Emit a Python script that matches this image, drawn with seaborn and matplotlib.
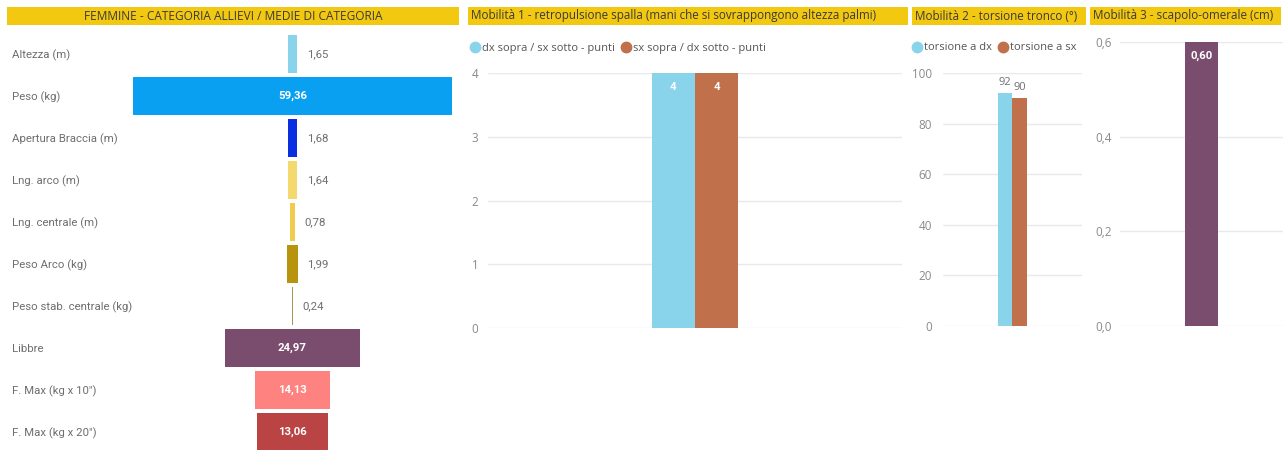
import matplotlib
matplotlib.use("Agg")
import matplotlib.pyplot as plt
from matplotlib.patches import Rectangle
from matplotlib.lines import Line2D
import numpy as np
import pandas as pd
import seaborn as sns

# --- dati ---------------------------------------------------------------
categorie = [
    "Altezza (m)", "Peso (kg)", "Apertura Braccia (m)", "Lng. arco (m)",
    "Lng. centrale (m)", "Peso Arco (kg)", "Peso stab. centrale (kg)",
    "Libbre", "F. Max (kg x 10\")", "F. Max (kg x 20\")",
]
medie = [1.65, 59.36, 1.68, 1.64, 0.78, 1.99, 0.24, 24.97, 14.13, 13.06]
colori_medie = [
    "#8AD4EB", "#0AA0F2", "#0A2FE0", "#F3D96E", "#F0CB4E",
    "#B8940E", "#A89455", "#7A4D6E", "#FD8280", "#BA4443",
]

mob1_serie = ["dx sopra / sx sotto - punti", "sx sopra / dx sotto - punti"]
mob1_valori = [4, 4]
mob1_ticks = [0, 1, 2, 3, 4]

mob2_serie = ["torsione a dx", "torsione a sx"]
mob2_valori = [92, 90]
mob2_ticks = [0, 20, 40, 60, 80, 100]

mob3_serie = ["scapolo-omerale"]
mob3_valori = [0.60]
mob3_ticks = [0.0, 0.2, 0.4, 0.6]

titoli = [
    "FEMMINE - CATEGORIA ALLIEVI / MEDIE DI CATEGORIA",
    "Mobilità 1 - retropulsione spalla (mani che si sovrappongono altezza palmi)",
    "Mobilità 2 - torsione tronco (°)",
    "Mobilità 3 - scapolo-omerale (cm)",
]

# --- stile ----------------------------------------------------------------
sns.set_theme(style="white")
plt.rcParams["font.family"] = ["Open Sans", "DejaVu Sans"]

AZZURRO = "#8AD4EB"
MATTONE = "#C0704A"
GIALLO = "#F2C811"
GRIGIO_TESTO = "#6E6E6E"
GRIGIO_GRIGLIA = "#E9E9E9"

W, H = 1288, 450
fig = plt.figure(figsize=(W / 100, H / 100), dpi=100)
fig.patch.set_facecolor("white")


def assi_px(left, top, right, bottom):
    return fig.add_axes([left / W, 1 - bottom / H, (right - left) / W, (bottom - top) / H])


def barra_titolo(left, right, testo, centrato=False):
    fig.add_artist(Rectangle((left / W, 1 - 25 / H), (right - left) / W, 18 / H,
                             transform=fig.transFigure, color=GIALLO, lw=0, zorder=0))
    if centrato:
        fig.text((left + right) / 2 / W, 1 - 16 / H, testo, ha="center", va="center",
                 fontsize=8.6, color="#3A3A3A")
    else:
        fig.text((left + 3) / W, 1 - 16 / H, testo, ha="left", va="center",
                 fontsize=8.35, color="#3A3A3A")


def virgola(v, dec):
    return f"{v:.{dec}f}".replace(".", ",")


def stile_colonne(ax, ticks, dec, pad):
    ax.set_yticks(ticks)
    ax.set_yticklabels([virgola(t, dec) for t in ticks])
    ax.set_xticks([])
    ax.set_xlabel("")
    ax.set_ylabel("")
    ax.grid(axis="y", color=GRIGIO_GRIGLIA, lw=1)
    ax.set_axisbelow(True)
    for s in ax.spines.values():
        s.set_visible(False)
    ax.tick_params(axis="y", length=0, pad=pad, labelsize=8.4, labelcolor="#8A8A8A")
    ax.set_facecolor("none")


def legenda(serie, colori, x):
    fig.legend(handles=[Line2D([], [], marker="o", ls="", color=c, markersize=7.5) for c in colori],
               labels=serie, loc="center left", bbox_to_anchor=(x / W, 1 - 48 / H),
               ncol=2, frameon=False, fontsize=8.0, handlelength=0.7, handletextpad=0.3,
               columnspacing=0.6, labelcolor="#555555", borderpad=0, borderaxespad=0)


# --- imbuto delle medie ---------------------------------------------------
barra_titolo(7, 459, titoli[0], centrato=True)
ax1 = assi_px(133, 33, 452, 453)
df1 = pd.DataFrame({"categoria": categorie, "media": medie})
sns.barplot(data=df1, x="media", y="categoria", hue="categoria", palette=colori_medie,
            width=0.9, saturation=1, legend=False, ax=ax1, linewidth=0)
for p in ax1.patches:
    p.set_x(-p.get_width() / 2)
lim = max(medie) / 2
ax1.set_xlim(-lim, lim)
ax1.set_ylim(len(categorie) - 0.5, -0.5)
for i, v in enumerate(medie):
    if v > 10:
        ax1.text(0, i, virgola(v, 2), ha="center", va="center", color="white",
                 fontsize=8.2, fontweight="bold", family="Roboto")
    else:
        ax1.annotate(virgola(v, 2), (v / 2, i), xytext=(7, 0), textcoords="offset points",
                     ha="left", va="center", color=GRIGIO_TESTO, fontsize=8.2, family="Roboto")
ax1.set_xticks([])
ax1.set_yticks(range(len(categorie)))
ax1.set_yticklabels(categorie, family="Roboto")
ax1.tick_params(axis="y", length=0, pad=(133 - 12) * 0.72, labelsize=8.2, labelcolor=GRIGIO_TESTO)
for t in ax1.get_yticklabels():
    t.set_ha("left")
ax1.set_xlabel("")
ax1.set_ylabel("")
for s in ax1.spines.values():
    s.set_visible(False)
ax1.set_facecolor("none")

# --- Mobilità 1 -----------------------------------------------------------
barra_titolo(468, 908, titoli[1])
ax2 = assi_px(488, 73, 902, 328)
df2 = pd.DataFrame({"gruppo": [""] * len(mob1_serie), "serie": mob1_serie, "valore": mob1_valori})
sns.barplot(data=df2, x="gruppo", y="valore", hue="serie", palette=[AZZURRO, MATTONE],
            width=0.21, saturation=1, legend=False, ax=ax2, linewidth=0)
ax2.set_xlim(-0.5, 0.5)
ax2.set_ylim(0, max(mob1_ticks))
stile_colonne(ax2, mob1_ticks, 0, 7)
for p, v in zip(ax2.patches, mob1_valori):
    ax2.annotate(virgola(v, 0), (p.get_x() + p.get_width() / 2, v), xytext=(0, -10),
                 textcoords="offset points", ha="center", va="center", color="white",
                 fontsize=8.2, fontweight="bold", family="Roboto")
legenda(mob1_serie, [AZZURRO, MATTONE], 471)

# --- Mobilità 2 -----------------------------------------------------------
barra_titolo(912, 1086, titoli[2])
ax3 = assi_px(943, 73, 1082, 326)
df3 = pd.DataFrame({"gruppo": [""] * len(mob2_serie), "serie": mob2_serie, "valore": mob2_valori})
sns.barplot(data=df3, x="gruppo", y="valore", hue="serie", palette=[AZZURRO, MATTONE],
            width=0.21, saturation=1, legend=False, ax=ax3, linewidth=0)
ax3.set_xlim(-0.5, 0.5)
ax3.set_ylim(0, max(mob2_ticks))
stile_colonne(ax3, mob2_ticks, 0, 8)
for p, v in zip(ax3.patches, mob2_valori):
    ax3.annotate(virgola(v, 0), (p.get_x() + p.get_width() / 2, v), xytext=(0, 4),
                 textcoords="offset points", ha="center", va="bottom", color=GRIGIO_TESTO,
                 fontsize=8.0)
legenda(mob2_serie, [AZZURRO, MATTONE], 913)

# --- Mobilità 3 -----------------------------------------------------------
barra_titolo(1090, 1281, titoli[3])
ax4 = assi_px(1120, 42, 1283, 326)
df4 = pd.DataFrame({"gruppo": [""], "serie": mob3_serie, "valore": mob3_valori})
sns.barplot(data=df4, x="gruppo", y="valore", color="#7A4D6E", width=0.2, saturation=1,
            ax=ax4, linewidth=0)
ax4.set_xlim(-0.5, 0.5)
ax4.set_ylim(0, max(mob3_ticks))
stile_colonne(ax4, mob3_ticks, 1, 10)
for t in ax4.get_yticklabels():
    t.set_ha("left")
ax4.tick_params(axis="y", pad=(1120 - 1095) * 0.72)
for p, v in zip(ax4.patches, mob3_valori):
    ax4.annotate(virgola(v, 2), (p.get_x() + p.get_width() / 2, v), xytext=(0, -10),
                 textcoords="offset points", ha="center", va="center", color="white",
                 fontsize=8.2, fontweight="bold", family="Roboto")

fig.savefig("out.png", dpi=100, facecolor="white")
